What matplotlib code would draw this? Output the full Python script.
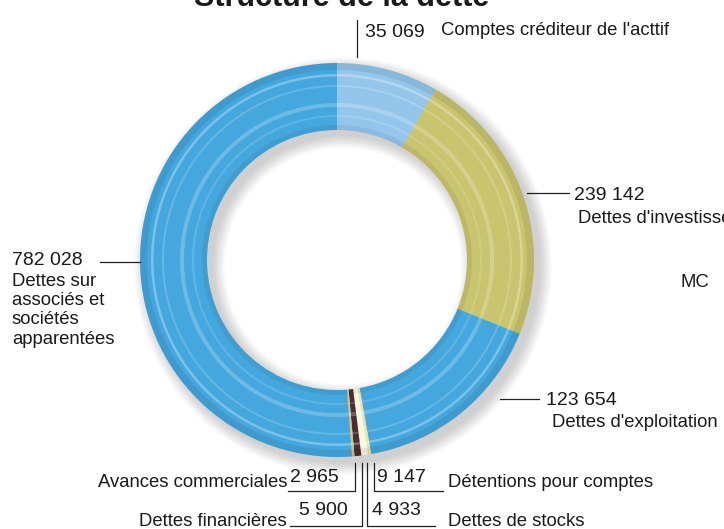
import matplotlib
matplotlib.use("Agg")
import matplotlib.pyplot as plt
from matplotlib.patches import Wedge

# ---- data ----
categories = ["Comptes créditeur de l'acttif", "Dettes d'investissement",
              "Dettes d'exploitation", "Détentions pour comptes",
              "Dettes de stocks", "Dettes financières",
              "Avances commerciales",
              "Dettes sur\nassociés et\nsociétés\napparentées"]
values = [35069, 239142, 123654, 9147, 4933, 5900, 2965, 782028]
value_labels = ["35 069", "239 142", "123 654", "9 147", "4 933", "5 900", "2 965", "782 028"]
# share of the ring as drawn in the reference (degrees of arc, estimated)
ring_share = [30, 82, 58, 0.9, 2.0, 2.0, 0.7, 184.4]
colors = ["#93C6EA", "#C9C46E", "#44A7DE", "#EEE4A6", "#FAF6E2", "#4B2C35", "#D8C676", "#44A7DE"]
title = "Structure de la dette"

W, H = 724, 529
fig = plt.figure(figsize=(W / 100, H / 100), dpi=100)
ax = fig.add_axes([0, 0, 1, 1])

def Y(y):  # pixel row (top origin) -> data y
    return H - y

cx, cy = 337, Y(260)
R, w = 197, 67

# soft drop shadow (offset right/down)
for i in range(10):
    d = i * 1.3
    ax.add_patch(Wedge((cx + 6, cy - 6), R + d, 0, 360, width=w + 2 * d,
                       facecolor="#606060", edgecolor="none", alpha=0.03, zorder=1))

wedges, _ = ax.pie(ring_share, colors=colors, startangle=90, counterclock=False,
                   center=(cx, cy), radius=R,
                   wedgeprops=dict(width=w, edgecolor="none", linewidth=0),
                   frame=True)
for wd in wedges:
    wd.set_zorder(2)
ax.set_xlim(0, W)
ax.set_ylim(0, H)
ax.set_aspect("equal")
ax.axis("off")

# gloss bands
gloss = [(R, 7, "#000000", 0.07), (R - 11, 2.5, "#FFFFFF", 0.30),
         (R - 22, 2, "#FFFFFF", 0.18), (R - 40, 4, "#FFFFFF", 0.22),
         (R - 52, 2, "#FFFFFF", 0.15), (R - w + 5, 5, "#000000", 0.06)]
for r, ww, c, a in gloss:
    ax.add_patch(Wedge((cx, cy), r, 0, 360, width=ww, facecolor=c,
                       edgecolor="none", alpha=a, zorder=3))

num_font = dict(family=["Liberation Sans Narrow", "Liberation Sans"], fontsize=14, color="#1a1a1a")
lab_font = dict(family=["Liberation Sans", "DejaVu Sans"], fontsize=13.3, color="#1a1a1a")
lc = dict(color="#222222", lw=0.9, zorder=4)

# title (cut off by top edge, as in the reference)
ax.text(342, Y(6), title, ha="center", va="baseline", fontsize=22, fontweight="bold",
        family=["Liberation Sans", "DejaVu Sans"], color="#1a1a1a")

# 35 069
ax.plot([357, 357], [Y(20), Y(57)], **lc)
ax.text(365, Y(37), value_labels[0], ha="left", va="baseline", **num_font)
ax.text(441, Y(35), categories[0], ha="left", va="baseline", **lab_font)

# 239 142
ax.plot([527, 569], [Y(193), Y(193)], **lc)
ax.text(574, Y(200), value_labels[1], ha="left", va="baseline", **num_font)
ax.text(578, Y(223), categories[1], ha="left", va="baseline", **lab_font)
ax.text(680, Y(287), "MC", ha="left", va="baseline", **lab_font)

# 123 654
ax.plot([500, 539], [Y(399), Y(399)], **lc)
ax.text(546, Y(405), value_labels[2], ha="left", va="baseline", **num_font)
ax.text(552, Y(427), categories[2], ha="left", va="baseline", **lab_font)

# 782 028
ax.plot([100, 140], [Y(262), Y(262)], **lc)
ax.text(12, Y(265), value_labels[7], ha="left", va="baseline", **num_font)
ax.text(12, Y(273), categories[7], ha="left", va="top", linespacing=1.17, **lab_font)

# bottom small slices
ax.plot([355, 355, 288], [Y(463), Y(491), Y(491)], **lc)
ax.text(339, Y(482), value_labels[6], ha="right", va="baseline", **num_font)
ax.text(287, Y(487), categories[6], ha="right", va="baseline", **lab_font)

ax.plot([362, 362, 290], [Y(463), Y(526), Y(526)], **lc)
ax.text(348, Y(515), value_labels[5], ha="right", va="baseline", **num_font)
ax.text(287, Y(526), categories[5], ha="right", va="baseline", **lab_font)

ax.plot([374, 374, 443], [Y(463), Y(491), Y(491)], **lc)
ax.text(377, Y(482), value_labels[3], ha="left", va="baseline", **num_font)
ax.text(448, Y(487), categories[3], ha="left", va="baseline", **lab_font)

ax.plot([367, 367, 435], [Y(463), Y(526), Y(526)], **lc)
ax.text(372, Y(515), value_labels[4], ha="left", va="baseline", **num_font)
ax.text(448, Y(526), categories[4], ha="left", va="baseline", **lab_font)

fig.savefig("out.png", dpi=100, facecolor="white")
